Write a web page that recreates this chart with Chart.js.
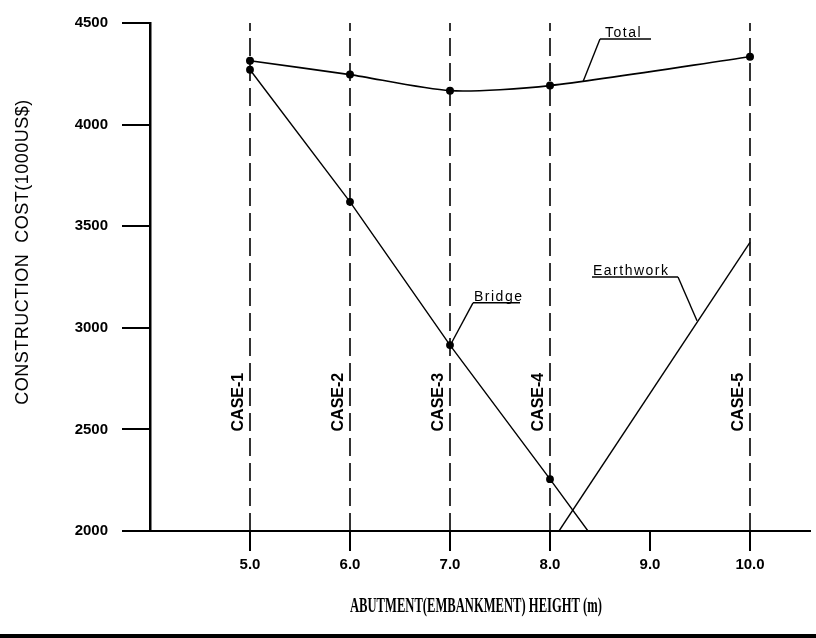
<!DOCTYPE html>
<html>
<head>
<meta charset="utf-8">
<script src="https://cdn.jsdelivr.net/npm/chart.js@4"></script>
<style>
    html, body { margin: 0; padding: 0; background: #fff; }
    #wrap { width: 816px; height: 638px; }
</style>
</head>
<body>
<div id="wrap"><canvas id="cost-chart"></canvas></div>
<script>
//----------------------------------DATA-----------------------------------------------------------

const heights = [5.0, 6.0, 7.0, 8.0, 10.0]
const caseNames = ['CASE-1', 'CASE-2', 'CASE-3', 'CASE-4', 'CASE-5']
const totalCost = [4314, 4246, 4167, 4192, 4334]

const bridgeX = [5.0, 6.0, 7.0, 8.0, 8.38]
const bridgeCost = [4270, 3620, 2915, 2255, 2000]

const earthX = [8.09, 10.0]
const earthCost = [2000, 3420]

const xTicks = [5.0, 6.0, 7.0, 8.0, 9.0, 10.0]
const yTicks = [2000, 2500, 3000, 3500, 4000, 4500]

// label, underline start x, underline end x, underline y, leader end x, leader end y (data units)
const labelNames = ['Total', 'Bridge', 'Earthwork']
const labelLine = [[8.5, 9.01, 4421, 8.33, 4211], [7.23, 7.7, 3123, 7.02, 2930], [8.42, 9.28, 3250, 9.47, 3035]]

const yTitle = 'CONSTRUCTION  COST(1000US$)'
const xTitle = 'ABUTMENT(EMBANKMENT) HEIGHT (m)'

//----------------------------------------BUILD------------------------------------------------------

const chartCanvas = document.getElementById('cost-chart')

function pairs(xs, ys){
    let out = []
    for(let i=0;i<xs.length;i++) out.push({x: xs[i], y: ys[i]})
    return out
}

let datasets = []

// dashed case lines
for(let i=0;i<heights.length;i++){
    datasets.push({
        label: caseNames[i],
        data: [{x: heights[i], y: yTicks[0]}, {x: heights[i], y: yTicks[yTicks.length-1]}],
        borderColor: '#000',
        borderWidth: 1.6,
        borderDash: [18, 7],
        pointRadius: 0,
    })
}

datasets.push({
    label: 'Total',
    data: pairs(heights, totalCost),
    borderColor: '#000',
    backgroundColor: '#000',
    borderWidth: 1.6,
    tension: 0.25,
    pointRadius: 3.2,
})
datasets.push({
    label: 'Bridge',
    data: pairs(bridgeX, bridgeCost),
    borderColor: '#000',
    backgroundColor: '#000',
    borderWidth: 1.4,
    pointRadius: [3.2, 3.2, 3.2, 3.2, 0],
})
datasets.push({
    label: 'Earthwork',
    data: pairs(earthX, earthCost),
    borderColor: '#000',
    borderWidth: 1.4,
    pointRadius: 0,
})

//------------------------------------------DRAWING EXTRAS----------------------------------------------

const extras = {
    id: 'extras',
    beforeDraw(chart){
        let ctx = chart.ctx
        ctx.save()
        ctx.fillStyle = '#fff'
        ctx.fillRect(0, 0, chart.width, chart.height)
        ctx.restore()
    },
    afterDraw(chart){
        let ctx = chart.ctx
        let xs = chart.scales.x
        let ys = chart.scales.y
        ctx.save()
        ctx.fillStyle = '#000'
        ctx.strokeStyle = '#000'

        // case labels
        ctx.font = 'bold 16px "Liberation Sans", Arial, sans-serif'
        ctx.textAlign = 'left'
        ctx.textBaseline = 'middle'
        for(let i=0;i<heights.length;i++){
            ctx.save()
            ctx.translate(xs.getPixelForValue(heights[i]) - 11, ys.getPixelForValue(2490))
            ctx.rotate(-Math.PI/2)
            ctx.fillText(caseNames[i], 0, 0)
            ctx.restore()
        }

        // curve labels with leaders
        ctx.font = '14px "Liberation Sans", Arial, sans-serif'
        ctx.letterSpacing = '1.5px'
        ctx.textBaseline = 'alphabetic'
        ctx.lineWidth = 1.4
        for(let i=0;i<labelNames.length;i++){
            let l = labelLine[i]
            let x1 = xs.getPixelForValue(l[0]), x2 = xs.getPixelForValue(l[1])
            let y1 = ys.getPixelForValue(l[2])
            let ex = xs.getPixelForValue(l[3]), ey = ys.getPixelForValue(l[4])
            ctx.beginPath()
            ctx.moveTo(x1, y1)
            ctx.lineTo(x2, y1)
            ctx.stroke()
            ctx.beginPath()
            if(i == 2) ctx.moveTo(x2, y1)
            else ctx.moveTo(x1, y1)
            ctx.lineTo(ex, ey)
            ctx.stroke()
            ctx.fillText(labelNames[i], x1 + (i == 0 ? 5 : 1), y1 - 2)
        }
        ctx.letterSpacing = '0px'

        // y title
        ctx.save()
        ctx.font = '18px "Liberation Sans", Arial, sans-serif'
        ctx.letterSpacing = '0.5px'
        ctx.textAlign = 'center'
        ctx.textBaseline = 'middle'
        ctx.translate(23, 252)
        ctx.rotate(-Math.PI/2)
        ctx.fillText(yTitle, 0, 0)
        ctx.restore()

        // x title, squeezed like the plotter font
        ctx.save()
        ctx.font = 'bold 22px "Liberation Serif", "Times New Roman", serif'
        let w = ctx.measureText(xTitle).width
        ctx.textAlign = 'center'
        ctx.textBaseline = 'middle'
        ctx.translate(476, 606)
        ctx.scale(252 / w, 1)
        ctx.fillText(xTitle, 0, 0)
        ctx.restore()

        // page rule at bottom
        ctx.fillRect(0, 634, chart.width, 4)
        ctx.restore()
    }
}

//------------------------------------------CHART------------------------------------------------------

Chart.defaults.font.family = '"Liberation Sans", Arial, sans-serif'
Chart.defaults.color = '#000'

new Chart(chartCanvas, {
    type: 'line',
    data: {datasets: datasets},
    options: {
        responsive: true,
        maintainAspectRatio: false,
        animation: false,
        events: [],
        layout: {padding: {top: 21, right: 6, left: 0, bottom: 0}},
        plugins: {legend: {display: false}, tooltip: {enabled: false}},
        scales: {
            x: {
                type: 'linear',
                min: 4,
                max: 10.6,
                afterBuildTicks: (s) => { s.ticks = xTicks.map(v => ({value: v})) },
                afterFit: (s) => { s.height = 107 },
                ticks: {
                    font: {size: 15, weight: 'bold'},
                    padding: 5,
                    maxRotation: 0,
                    callback: (v) => Number(v).toFixed(1),
                },
                grid: {drawOnChartArea: false, drawTicks: true, tickLength: 20, color: '#000', lineWidth: 2},
                border: {display: true, color: '#000', width: 2},
            },
            y: {
                type: 'linear',
                min: 2000,
                max: 4500,
                afterBuildTicks: (s) => { s.ticks = yTicks.map(v => ({value: v})) },
                afterFit: (s) => { s.width = 150 },
                ticks: {
                    font: {size: 15, weight: 'bold'},
                    padding: 14,
                    callback: (v) => String(v),
                },
                grid: {drawOnChartArea: false, drawTicks: true, tickLength: 28, color: '#000', lineWidth: 2},
                border: {display: true, color: '#000', width: 2.5},
            },
        },
    },
    plugins: [extras],
})
</script>
</body>
</html>
